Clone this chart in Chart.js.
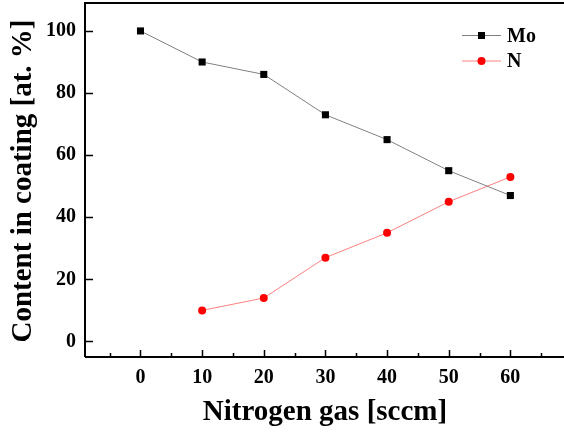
<!DOCTYPE html>
<html><head><meta charset="utf-8">
<script src="https://cdn.jsdelivr.net/npm/chart.js@4"></script>
<style>html,body{margin:0;padding:0;background:#fff}#wrap{width:564px;height:435px}</style>
</head><body><div id="wrap"><canvas id="c" width="564" height="435"></canvas></div>
<script>
const gasFlow = [0, 10, 20, 30, 40, 50, 60];
const moContent = [100, 90, 86, 73, 65, 55, 47];
const nGasFlow = [10, 20, 30, 40, 50, 60];
const nContent = [10, 14, 27, 35, 45, 53];
const xTickValues = [0, 10, 20, 30, 40, 50, 60];
const xMinorValues = [-5, 5, 15, 25, 35, 45, 55, 65];
const yTickValues = [0, 20, 40, 60, 80, 100];
const xTitle = 'Nitrogen gas [sccm]';
const yTitle = 'Content in coating [at. %]';

const FONT = 'Liberation Serif, Times New Roman, serif';

const frame = {
  id: 'frame',
  afterDraw(chart) {
    const ctx = chart.ctx, a = chart.chartArea;
    const xs = chart.scales.x, ys = chart.scales.y;
    ctx.save();
    ctx.strokeStyle = '#000';
    ctx.lineWidth = 2;
    ctx.beginPath();
    ctx.moveTo(a.left, a.bottom); ctx.lineTo(a.right, a.bottom);
    ctx.moveTo(a.left, a.bottom); ctx.lineTo(a.left, a.top);
    ctx.lineTo(a.right, a.top);
    ctx.stroke();
    ctx.lineWidth = 1.5;
    ctx.beginPath();
    xTickValues.forEach(v => { const p = Math.round(xs.getPixelForValue(v)) + 0.5; ctx.moveTo(p, a.bottom); ctx.lineTo(p, a.bottom - 7); });
    xMinorValues.forEach(v => { const p = Math.round(xs.getPixelForValue(v)) + 0.5; ctx.moveTo(p, a.bottom); ctx.lineTo(p, a.bottom - 4); });
    yTickValues.forEach(v => { const p = Math.round(ys.getPixelForValue(v)) + 0.5; ctx.moveTo(a.left, p); ctx.lineTo(a.left + 8, p); });
    ctx.stroke();
    // axis titles
    ctx.fillStyle = '#000';
    ctx.font = 'bold 29px ' + FONT;
    ctx.textAlign = 'center'; ctx.textBaseline = 'alphabetic';
    ctx.fillText(xTitle, 325, 420);
    ctx.save();
    ctx.translate(31, 181);
    ctx.rotate(-Math.PI / 2);
    ctx.fillText(yTitle, 0, 0);
    ctx.restore();
    // legend
    const rows = [{y: 35.5}, {y: 61}];
    chart.data.datasets.forEach((ds, i) => {
      const y = rows[i].y;
      ctx.strokeStyle = ds.borderColor; ctx.lineWidth = 1;
      ctx.beginPath(); ctx.moveTo(462, y); ctx.lineTo(501, y); ctx.stroke();
      ctx.fillStyle = ds.pointBackgroundColor;
      if (ds.pointStyle === 'rect') { ctx.fillRect(478, y - 3.5, 7, 7); }
      else { ctx.beginPath(); ctx.arc(481.5, y, 4, 0, Math.PI * 2); ctx.fill(); }
      ctx.fillStyle = '#000';
      ctx.font = 'bold 20px ' + FONT;
      ctx.textBaseline = 'middle'; ctx.textAlign = 'left';
      ctx.fillText(ds.label, 507, y + 1);
    });
    ctx.restore();
  }
};

new Chart(document.getElementById('c'), {
  type: 'scatter',
  data: {
    datasets: [
      { label: 'Mo', data: gasFlow.map((x, i) => ({x, y: moContent[i]})), showLine: true,
        borderColor: '#808080', borderWidth: 1, pointStyle: 'rect', pointRadius: 5,
        pointBackgroundColor: '#000', pointBorderWidth: 0, pointBorderColor: '#000' },
      { label: 'N', data: nGasFlow.map((x, i) => ({x, y: nContent[i]})), showLine: true,
        borderColor: '#ff8080', borderWidth: 1, pointStyle: 'circle', pointRadius: 4,
        pointBackgroundColor: '#ff0000', pointBorderWidth: 0, pointBorderColor: '#ff0000' }
    ]
  },
  options: {
    responsive: false, animation: false, events: [],
    layout: { autoPadding: false, padding: { top: 3, right: 0, left: 0, bottom: 0 } },
    plugins: { legend: { display: false }, tooltip: { enabled: false } },
    scales: {
      x: {
        type: 'linear', min: -9, max: 68.7,
        afterBuildTicks: s => { s.ticks = xTickValues.map(v => ({value: v})); },
        afterFit: s => { s.height = 78; s.paddingLeft = 0; s.paddingRight = 0; },
        grid: { display: false, drawTicks: false }, border: { display: false },
        ticks: { color: '#000', padding: 9, font: { family: FONT, size: 20, weight: 'bold' }, maxRotation: 0 },
        title: { display: false }
      },
      y: {
        type: 'linear', min: -5, max: 109,
        afterBuildTicks: s => { s.ticks = yTickValues.map(v => ({value: v})); },
        afterFit: s => { s.width = 85; s.paddingTop = 0; s.paddingBottom = 0; },
        grid: { display: false, drawTicks: false }, border: { display: false },
        ticks: { color: '#000', padding: 9, font: { family: FONT, size: 20, weight: 'bold' } },
        title: { display: false }
      }
    }
  },
  plugins: [frame]
});
</script></body></html>
